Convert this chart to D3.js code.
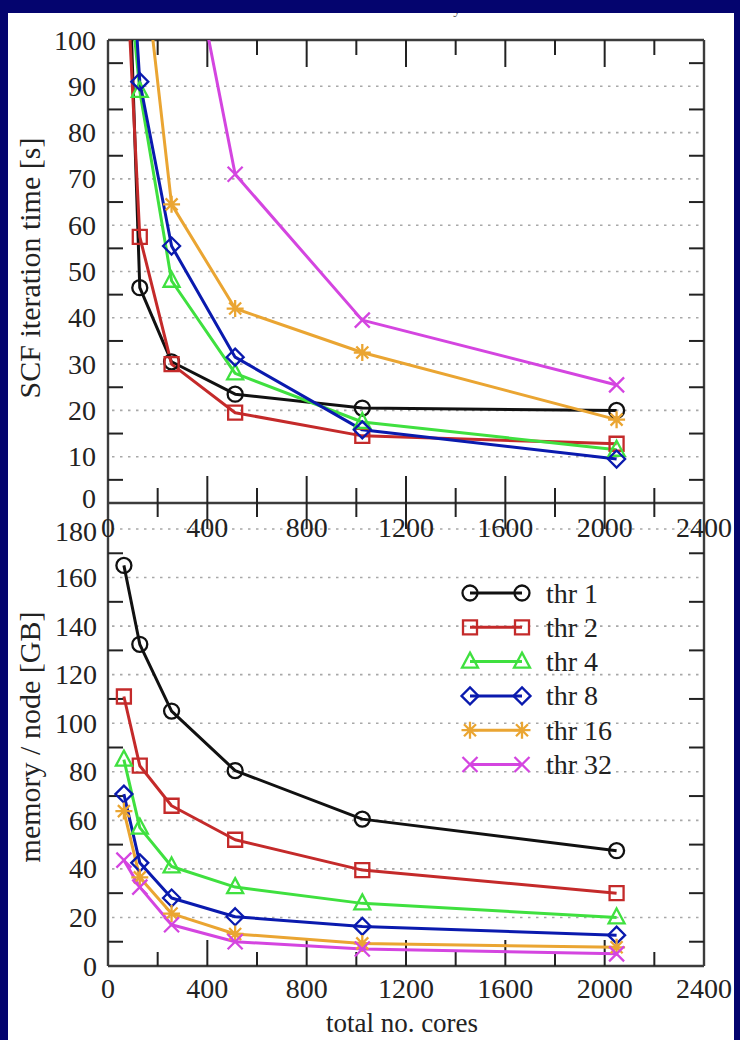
<!DOCTYPE html>
<html><head><meta charset="utf-8">
<script src="https://cdn.jsdelivr.net/npm/d3@7"></script>
<style>
html,body{margin:0;padding:0;background:#04046e;}
svg{display:block;}
text{font-family:"Liberation Serif","Times New Roman",serif;fill:#222;}
</style></head>
<body>
<svg id="c" width="740" height="1040"></svg>
<script>
// ---------- data ----------
const cores = [64, 128, 256, 512, 1024, 2048];
const seriesNames = ["thr 1", "thr 2", "thr 4", "thr 8", "thr 16", "thr 32"];
// SCF iteration time [s] (values above 100 are off the top of the panel)
const timeThr1  = [150, 46.5, 30.5, 23.5, 20.5, 20.0];
const timeThr2  = [127, 57.5, 30.0, 19.5, 14.5, 12.8];
const timeThr4  = [125, 89.0, 48.0, 28.0, 17.5, 11.5];
const timeThr8  = [145, 91.0, 55.5, 31.5, 15.8, 9.5];
const timeThr16 = [200, 125, 64.5, 42.0, 32.5, 18.0];
const timeThr32 = [350, 250, 141, 71.0, 39.5, 25.5];
// memory / node [GB]
const memThr1  = [165, 132.5, 105, 80.5, 60.5, 47.5];
const memThr2  = [111, 82.5, 66, 52, 39.5, 30];
const memThr4  = [85, 57, 41, 32.5, 25.8, 20];
const memThr8  = [70.8, 42.5, 28, 20.3, 16.3, 12.7];
const memThr16 = [63.8, 36.5, 21.6, 13.2, 9.3, 7.7];
const memThr32 = [43.6, 32.5, 17, 10, 7, 5];
// axes
const xTicksMajor = [0, 400, 800, 1200, 1600, 2000, 2400];
const xTicksMinor = [200, 600, 1000, 1400, 1800, 2200];
const yTopTicks = [0, 10, 20, 30, 40, 50, 60, 70, 80, 90, 100];
const yTopMinor = [5, 15, 25, 35, 45, 55, 65, 75, 85, 95];
const yBotTicks = [0, 20, 40, 60, 80, 100, 120, 140, 160, 180];
const yBotMinor = [10, 30, 50, 70, 90, 110, 130, 150, 170];

const timeSeries = [timeThr1, timeThr2, timeThr4, timeThr8, timeThr16, timeThr32];
const memSeries = [memThr1, memThr2, memThr4, memThr8, memThr16, memThr32];
const colors = ["#111111", "#c42a2a", "#3fe03f", "#0a1aae", "#eaa532", "#d445e0"];
const markers = ["circle", "square", "triangle", "diamond", "star", "cross"];

// ---------- layout ----------
const svg = d3.select("#c");
svg.append("rect").attr("x", 8).attr("y", 13).attr("width", 726).attr("height", 1027).attr("fill", "#fff");

// partially visible title (only its descender shows below the blue band)
svg.append("text").attr("x", 457).attr("y", 14)
  .attr("text-anchor", "middle").style("font-size", "15px").style("fill", "#555").text("y");
svg.append("rect").attr("x", 0).attr("y", 0).attr("width", 740).attr("height", 13).attr("fill", "#04046e");

const x = d3.scaleLinear().domain([0, 2400]).range([108, 704]);
const yT = d3.scaleLinear().domain([0, 100]).range([503, 40]);
const yB = d3.scaleLinear().domain([0, 180]).range([966, 529]);

const gridColor = "#a8a8a8", frameColor = "#3c3c3c";

function grid(y, vals) {
  svg.append("g").selectAll("line").data(vals).join("line")
    .attr("x1", x(0) + 4).attr("x2", x(2400) - 2)
    .attr("y1", d => y(d)).attr("y2", d => y(d))
    .attr("stroke", gridColor).attr("stroke-width", 1.6).attr("stroke-dasharray", "2.5,5.5");
}
grid(yT, [10, 20, 30, 40, 50, 60, 70, 80, 90]);
grid(yB, [20, 40, 60, 80, 100, 120, 140, 160, 180]);

// frame
const fr = svg.append("g").attr("stroke", frameColor).attr("stroke-width", 2.4).attr("fill", "none");
fr.append("line").attr("x1", x(0)).attr("x2", x(0)).attr("y1", yT(100)).attr("y2", yB(0));
fr.append("line").attr("x1", x(2400)).attr("x2", x(2400)).attr("y1", yT(100)).attr("y2", yB(0));
fr.append("line").attr("x1", x(0)).attr("x2", x(2400)).attr("y1", yT(100)).attr("y2", yT(100));
fr.append("line").attr("x1", x(0)).attr("x2", x(2400)).attr("y1", yT(0)).attr("y2", yT(0));
fr.append("line").attr("x1", x(0)).attr("x2", x(2400)).attr("y1", yB(0)).attr("y2", yB(0));

// ticks
const tk = svg.append("g").attr("stroke", "#222").attr("stroke-width", 2);
function xt(vals, y0, up, down) {
  vals.forEach(v => tk.append("line").attr("x1", x(v)).attr("x2", x(v)).attr("y1", y0 - up).attr("y2", y0 + down));
}
xt(xTicksMajor.slice(1, -1), yT(100), 0, 27);
xt(xTicksMinor, yT(100), 0, 15);
xt(xTicksMajor.slice(1, -1), yT(0), 27, 26);
xt(xTicksMinor, yT(0), 15, 14);
xt(xTicksMajor.slice(1, -1), yB(0), 26, 0);
xt(xTicksMinor, yB(0), 14, 0);
function yt(y, vals) {
  vals.forEach(v => {
    tk.append("line").attr("x1", x(0)).attr("x2", x(0) + 15).attr("y1", y(v)).attr("y2", y(v));
    tk.append("line").attr("x1", x(2400) - 15).attr("x2", x(2400)).attr("y1", y(v)).attr("y2", y(v));
  });
}
yt(yT, yTopMinor);
yt(yB, yBotMinor);

// tick labels
const lab = svg.append("g").style("font-size", "28px");
yTopTicks.forEach(v => lab.append("text").attr("x", 96)
  .attr("y", yT(v) + 9.5 - (v === 0 ? 5 : 0)).attr("text-anchor", "end").text(v));
yBotTicks.forEach(v => lab.append("text").attr("x", 97)
  .attr("y", yB(v) + 9.5 + (v === 180 ? 2 : 0)).attr("text-anchor", "end").text(v));
xTicksMajor.forEach(v => lab.append("text").attr("x", x(v)).attr("y", 537).attr("text-anchor", "middle").text(v));
xTicksMajor.forEach(v => lab.append("text").attr("x", x(v)).attr("y", 998).attr("text-anchor", "middle").text(v));

// axis titles
svg.append("text").attr("transform", "translate(29,268) rotate(-90)").attr("text-anchor", "middle")
  .attr("dominant-baseline", "central").style("font-size", "30px").text("SCF iteration time [s]");
svg.append("text").attr("transform", "translate(29,737) rotate(-90)").attr("text-anchor", "middle")
  .attr("dominant-baseline", "central").style("font-size", "30px").text("memory / node [GB]");
svg.append("text").attr("x", 402).attr("y", 1032).attr("text-anchor", "middle")
  .style("font-size", "27px").text("total no. cores");

// markers
function markerPath(type, cx, cy) {
  const p = d3.path();
  if (type === "circle") { p.moveTo(cx + 7.5, cy); p.arc(cx, cy, 7.5, 0, 2 * Math.PI); }
  else if (type === "square") { p.rect(cx - 7, cy - 7, 14, 14); }
  else if (type === "triangle") { p.moveTo(cx, cy - 9); p.lineTo(cx + 8, cy + 6); p.lineTo(cx - 8, cy + 6); p.closePath(); }
  else if (type === "diamond") { p.moveTo(cx, cy - 8.5); p.lineTo(cx + 8.5, cy); p.lineTo(cx, cy + 8.5); p.lineTo(cx - 8.5, cy); p.closePath(); }
  else if (type === "star") {
    const r = 8.5, d = 6;
    p.moveTo(cx - r, cy); p.lineTo(cx + r, cy); p.moveTo(cx, cy - r); p.lineTo(cx, cy + r);
    p.moveTo(cx - d, cy - d); p.lineTo(cx + d, cy + d); p.moveTo(cx - d, cy + d); p.lineTo(cx + d, cy - d);
  }
  else if (type === "cross") { const d = 7.5; p.moveTo(cx - d, cy - d); p.lineTo(cx + d, cy + d); p.moveTo(cx - d, cy + d); p.lineTo(cx + d, cy - d); }
  return p.toString();
}

svg.append("clipPath").attr("id", "topclip").append("rect")
  .attr("x", x(0)).attr("y", yT(100)).attr("width", x(2400) - x(0)).attr("height", yT(0) - yT(100));

function drawPanel(series, y, clip) {
  const g = svg.append("g");
  if (clip) g.attr("clip-path", "url(#topclip)");
  const line = d3.line().x((d, i) => x(cores[i])).y(d => y(d));
  series.forEach((vals, si) => {
    g.append("path").datum(vals).attr("d", line).attr("fill", "none")
      .attr("stroke", colors[si]).attr("stroke-width", 3).attr("stroke-linejoin", "round");
  });
  series.forEach((vals, si) => {
    vals.forEach((v, i) => {
      g.append("path").attr("d", markerPath(markers[si], x(cores[i]), y(v)))
        .attr("fill", "none").attr("stroke", colors[si]).attr("stroke-width", 2.3);
    });
  });
}
drawPanel(timeSeries, yT, true);
drawPanel(memSeries, yB, false);

// legend
const lg = svg.append("g").style("font-size", "28px");
seriesNames.forEach((name, i) => {
  const ly = 593 + i * 34.3;
  lg.append("line").attr("x1", 470).attr("x2", 522).attr("y1", ly).attr("y2", ly)
    .attr("stroke", colors[i]).attr("stroke-width", 3);
  [470, 522].forEach(mx => lg.append("path").attr("d", markerPath(markers[i], mx, ly))
    .attr("fill", "none").attr("stroke", colors[i]).attr("stroke-width", 2.3));
  lg.append("text").attr("x", 546).attr("y", ly + 9.5).text(name);
});
</script>
</body></html>
